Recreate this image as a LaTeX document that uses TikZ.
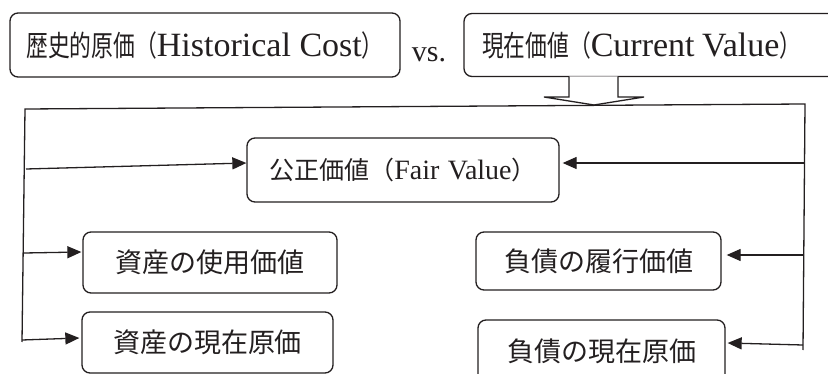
\documentclass[tikz,border=0pt]{standalone}
\usepackage{fontspec}
\usepackage{graphicx}
\setmainfont{Liberation Serif}
\newfontfamily\jp{Noto Sans CJK JP}
\usetikzlibrary{arrows.meta,calc}
\definecolor{ink}{HTML}{231F20}
\newcommand\jtop[1]{\scalebox{0.75}[1]{\fontsize{29pt}{33pt}\selectfont\jp #1}}
\newcommand\ltop[1]{{\fontsize{34pt}{38pt}\selectfont #1}}
\newcommand\jfv[1]{{\fontsize{25pt}{29pt}\selectfont\jp #1}}
\newcommand\lfv[1]{{\fontsize{28pt}{32pt}\selectfont #1}}
\newcommand\jlow[1]{{\fontsize{27pt}{31pt}\selectfont\jp #1}}
\begin{document}
\begin{tikzpicture}[x=1pt,y=-1pt,
  box/.style={draw=ink, line width=1.3pt, rounded corners=8pt, text=ink, inner sep=0pt, fill=white},
  conn/.style={draw=ink, line width=1.3pt},
  arr/.style={conn, -{Triangle[length=14pt,width=12pt]}}]
\useasboundingbox (0,0) rectangle (828,374);
\clip (0,0) rectangle (828,374);
% top boxes
\node[box, minimum width=390pt, minimum height=64pt] (HC) at (205,45)
  {\jtop{歴史的原価（}\ltop{Historical Cost}\jtop{）}};
\node[text=ink, anchor=base, inner sep=0pt] (vs) at (429,62) {\fontsize{30pt}{34pt}\selectfont vs.};
\node[box, text width=340pt, inner xsep=18pt, inner ysep=0pt, minimum height=63pt, align=left] (CV) at (652,45)
  {\jtop{現在価値（}\ltop{Current\ \kern0.12em Value}\jtop{）}};
% hollow arrow
\draw[conn, fill=white, line join=miter] (569,76.5) -- (569,97) -- (544,97) -- (594,105) -- (644,97) -- (618,97) -- (618,76.5);
% frame lines
\coordinate (TL) at (25,109);
\coordinate (TR) at (805,104);
\coordinate (BL) at (22,342);
\coordinate (BR) at (803,350);
\draw[conn] (BL) -- (TL) -- (TR) -- (BR);
% value boxes
\node[box, minimum width=312pt, minimum height=64pt] (FV) at (403,170)
  {\jfv{公正価値（}\lfv{Fair\ \kern0.05em Value}\jfv{）}};
\node[box, minimum width=254pt, minimum height=61pt] (AU) at (210,262.5) {\jlow{資産の使用価値}};
\node[box, minimum width=251pt, minimum height=61pt] (AC) at (207.5,342.5) {\jlow{資産の現在原価}};
\node[box, minimum width=245pt, minimum height=58pt] (LF) at (598.5,261) {\jlow{負債の履行価値}};
\node[box, minimum width=247pt, minimum height=62pt] (LC) at (601.5,351) {\jlow{負債の現在原価}};
% branch points
\coordinate (L1) at (26,169);
\coordinate (L2) at (24,253);
\coordinate (L3) at (22,340);
\coordinate (R1) at (805,163);
\coordinate (R2) at (804,255);
\coordinate (R3) at (803,345);
% arrows
\draw[arr] (L1) -- ([yshift=7pt]FV.west);
\draw[arr] (L2) -- ([yshift=10.5pt,xshift=-1pt]AU.west);
\draw[arr] (L3) -- ([yshift=4.5pt,xshift=-2pt]AC.west);
\draw[arr] (R1) -- ([yshift=7pt,xshift=3pt]FV.east);
\draw[arr] (R2) -- ([yshift=6pt,xshift=5pt]LF.east);
\draw[arr] (R3) -- ([yshift=8pt,xshift=2pt]LC.east);
\end{tikzpicture}
\end{document}
